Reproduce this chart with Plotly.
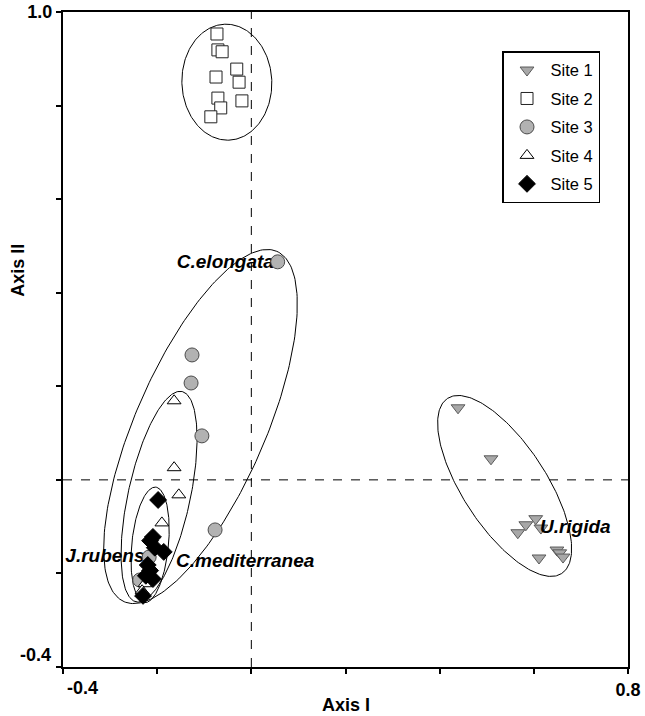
import numpy as np
import plotly.graph_objects as go

# ---- ordination scores (Axis I, Axis II) per site ----
site1_x = [0.439, 0.509, 0.566, 0.583, 0.604, 0.615, 0.611, 0.649, 0.655, 0.662]
site1_y = [0.154, 0.045, -0.113, -0.096, -0.083, -0.103, -0.167, -0.150, -0.156, -0.165]

site2_x = [-0.073, -0.071, -0.062, -0.031, -0.075, -0.026, -0.071, -0.065, -0.020, -0.086]
site2_y = [0.953, 0.919, 0.915, 0.878, 0.861, 0.850, 0.816, 0.795, 0.810, 0.776]

site3_x = [0.056, -0.126, -0.128, -0.105, -0.077, -0.217, -0.237]
site3_y = [0.466, 0.267, 0.207, 0.094, -0.107, -0.165, -0.214]

site4_x = [-0.164, -0.164, -0.154, -0.190, -0.226, -0.232]
site4_y = [0.169, 0.026, -0.032, -0.092, -0.222, -0.237]

site5_x = [-0.198, -0.209, -0.215, -0.205, -0.186, -0.220, -0.215, -0.224, -0.209, -0.230]
site5_y = [-0.043, -0.122, -0.130, -0.145, -0.154, -0.182, -0.194, -0.205, -0.212, -0.248]

# group ellipses: centre x, centre y, semi-major, semi-minor, angle (deg)
ellipse_cx = [0.538, -0.052, -0.108, -0.196, -0.215]
ellipse_cy = [-0.013, 0.850, 0.114, -0.036, -0.139]
ellipse_a = [0.223, 0.124, 0.408, 0.230, 0.124]
ellipse_b = [0.089, 0.0955, 0.138, 0.066, 0.039]
ellipse_ang = [-57.1, 92.0, 66.6, 77.8, 84.5]

# species labels (the left group sits beneath the markers, U.rigida above them)
species_under = ["C.elongata", "J.rubens", "C.mediterranea"]
species_under_x = [0.048, -0.395, -0.160]
species_under_y = [0.464, -0.165, -0.176]
species_under_pos = ["middle left", "middle right", "middle right"]

species_over = ["U.rigida"]
species_over_x = [0.613]
species_over_y = [-0.103]

x_ticks = [-0.4, -0.2, 0.0, 0.2, 0.4, 0.6, 0.8]
y_ticks = [-0.4, -0.2, 0.0, 0.2, 0.4, 0.6, 0.8, 1.0]

FONT = "Liberation Sans, Arial, sans-serif"
LABEL_FONT = dict(family=FONT, size=19, color="black", weight="bold", style="italic")


def ellipse(cx, cy, a, b, ang):
    t = np.linspace(0, 2 * np.pi, 241)
    th = np.deg2rad(ang)
    ex = a * np.cos(t)
    ey = b * np.sin(t)
    return cx + ex * np.cos(th) - ey * np.sin(th), cy + ex * np.sin(th) + ey * np.cos(th)


fig = go.Figure()

for cx, cy, a, b, ang in zip(ellipse_cx, ellipse_cy, ellipse_a, ellipse_b, ellipse_ang):
    ex, ey = ellipse(cx, cy, a, b, ang)
    fig.add_trace(go.Scatter(x=ex, y=ey, mode="lines", line=dict(color="black", width=1),
                             showlegend=False, hoverinfo="skip"))

fig.add_trace(go.Scatter(x=species_under_x, y=species_under_y, mode="text",
                         text=species_under, textposition=species_under_pos,
                         textfont=LABEL_FONT, showlegend=False, hoverinfo="skip"))

sites = [
    ("Site 1", site1_x, site1_y, "triangle-down", 12, "#a8a8a8", "#5a5a5a"),
    ("Site 2", site2_x, site2_y, "square", 12, "white", "#222222"),
    ("Site 3", site3_x, site3_y, "circle", 14, "#b2b2b2", "#4a4a4a"),
    ("Site 4", site4_x, site4_y, "triangle-up", 12, "white", "black"),
    ("Site 5", site5_x, site5_y, "diamond", 13, "black", "black"),
]
for name, xs, ys, sym, sz, fill, edge in sites:
    fig.add_trace(go.Scatter(x=xs, y=ys, mode="markers", name=name, legendgroup=name,
                             marker=dict(symbol=sym, size=sz, color=fill,
                                         line=dict(color=edge, width=1))))

fig.add_trace(go.Scatter(x=species_over_x, y=species_over_y, mode="text",
                         text=species_over, textposition="middle right",
                         textfont=LABEL_FONT, showlegend=False, hoverinfo="skip"))

# dashed reference lines at zero
fig.add_shape(type="line", x0=0, x1=0, y0=-0.4, y1=1.0, xref="x", yref="y",
              line=dict(color="black", width=1, dash="dash"))
fig.add_shape(type="line", x0=-0.4, x1=0.8, y0=0, y1=0, xref="x", yref="y",
              line=dict(color="black", width=1, dash="dash"))

fig.update_xaxes(range=[-0.4, 0.8], tickvals=x_ticks,
                 ticktext=["" if v != 0.8 else "0.8" for v in x_ticks],
                 ticks="outside", ticklen=5, tickwidth=1.5, tickcolor="black",
                 showline=True, linecolor="black", linewidth=2, mirror=True,
                 showgrid=False, zeroline=False, automargin=False,
                 tickfont=dict(family=FONT, size=18, color="black", weight="bold"))
fig.update_yaxes(range=[-0.4, 1.0], tickvals=y_ticks,
                 ticktext=["" if v != 1.0 else "1.0" for v in y_ticks],
                 ticks="outside", ticklen=5, tickwidth=1.5, tickcolor="black",
                 showline=True, linecolor="black", linewidth=2, mirror=True,
                 showgrid=False, zeroline=False, automargin=False,
                 tickfont=dict(family=FONT, size=18, color="black", weight="bold"))

bold = dict(family=FONT, size=18, color="black", weight="bold")
fig.add_annotation(text="-0.4", x=-0.4, y=0, xref="x", yref="paper", xanchor="left",
                   yanchor="top", yshift=-9, xshift=2, showarrow=False, font=bold)
fig.add_annotation(text="-0.4", x=0, y=-0.4, xref="paper", yref="y", xanchor="right",
                   yanchor="middle", xshift=-10, yshift=12, showarrow=False, font=bold)
fig.add_annotation(text="Axis I", x=0.5, y=0, xref="paper", yref="paper",
                   xanchor="center", yanchor="middle", yshift=-38, showarrow=False, font=bold)
fig.add_annotation(text="Axis II", x=0, y=0.605, xref="paper", yref="paper", textangle=-90,
                   xanchor="center", yanchor="middle", xshift=-45, showarrow=False, font=bold)

fig.update_layout(
    width=645, height=716,
    margin=dict(l=63, r=17, t=12, b=49, autoexpand=False),
    plot_bgcolor="white", paper_bgcolor="white",
    showlegend=True,
    legend=dict(x=0.777, y=0.94, xanchor="left", yanchor="top",
                bgcolor="white", bordercolor="black", borderwidth=1.5,
                font=dict(family=FONT, size=16.5, color="black"),
                tracegroupgap=4, itemsizing="trace", itemwidth=37),
)

fig.write_html("out.html")
